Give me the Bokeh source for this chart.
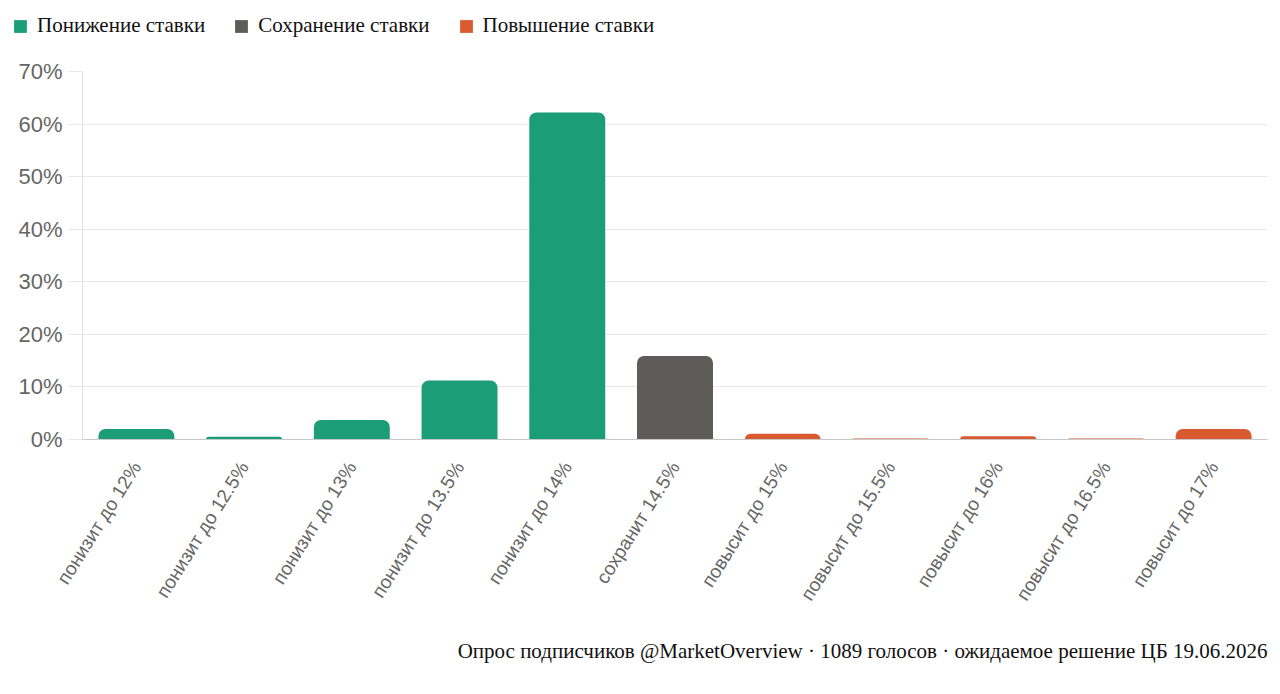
from bokeh.plotting import figure
from bokeh.layouts import column
from bokeh.models import ColumnDataSource, FactorRange, Legend, LegendItem, Title, FixedTicker, CustomJSTickFormatter
from bokeh.embed import file_html
from bokeh.resources import INLINE
from bokeh.transform import factor_cmap

categories = ["понизит до 12%", "понизит до 12.5%", "понизит до 13%", "понизит до 13.5%",
              "понизит до 14%", "сохранит 14.5%", "повысит до 15%", "повысит до 15.5%",
              "повысит до 16%", "повысит до 16.5%", "повысит до 17%"]
shares = [2.0, 0.5, 3.7, 11.2, 62.2, 15.9, 1.1, 0.2, 0.6, 0.2, 2.0]
groups = ["Понижение ставки"] * 5 + ["Сохранение ставки"] + ["Повышение ставки"] * 5
group_names = ["Понижение ставки", "Сохранение ставки", "Повышение ставки"]
group_colors = ["#1b9e77", "#5d5c58", "#d85a2e"]
y_ticks = [0, 10, 20, 30, 40, 50, 60, 70]
footer = "Опрос подписчиков @MarketOverview · 1089 голосов · ожидаемое решение ЦБ 19.06.2026"

src = ColumnDataSource(dict(cat=categories, val=shares, grp=groups))

W = 1275
LH = 48
H = 690 - LH

# ---- legend strip ----
lg = figure(width=W, height=LH, output_backend="svg", toolbar_location=None,
            min_border=0, x_range=(0, 1), y_range=(0, 1))
lg.frame_align = False
lg.outline_line_color = None
lg.axis.visible = False
lg.grid.visible = False
items = []
for g, c in zip(group_names, group_colors):
    rr = lg.vbar(x=[-5], top=[-5], width=0.5, fill_color=c, line_color=None)
    items.append(LegendItem(label=g, renderers=[rr]))
legend = Legend(items=items, orientation="horizontal", location=(12, 10),
                label_text_font="Liberation Serif", label_text_font_size="21px",
                label_text_color="#111111", glyph_width=16, glyph_height=16,
                label_standoff=9, spacing=28, padding=0, margin=0,
                border_line_color=None, background_fill_alpha=0)
lg.add_layout(legend, "center")

# ---- main chart ----
p = figure(width=W, height=H, x_range=FactorRange(*categories, range_padding=0),
           y_range=(0, 70), output_backend="svg", toolbar_location=None,
           min_border_left=82, min_border_right=8, min_border_top=71 - LH, min_border_bottom=251)
p.frame_align = False
p.outline_line_color = None

p.vbar(x="cat", top="val", width=0.705, source=src,
       fill_color=factor_cmap("grp", group_colors, group_names),
       line_color=None, border_radius=(7, 7, 0, 0))

p.yaxis.ticker = FixedTicker(ticks=y_ticks)
p.yaxis.formatter = CustomJSTickFormatter(code="return tick + '%';")
p.yaxis.major_label_text_font = "Liberation Sans"
p.yaxis.major_label_text_font_size = "22px"
p.yaxis.major_label_text_color = "#666666"
p.yaxis.axis_line_color = "#e0e0e0"
p.yaxis.major_tick_line_color = "#e8e8e8"
p.yaxis.major_tick_out = 14
p.yaxis.major_tick_in = 0
p.yaxis.minor_tick_line_color = None
p.yaxis.major_label_standoff = 6

p.xaxis.major_label_orientation = 1.01
p.xaxis.major_label_text_font = "Liberation Sans"
p.xaxis.major_label_text_font_size = "19px"
p.xaxis.major_label_text_color = "#666666"
p.xaxis.axis_line_color = "#c8c8c8"
p.xaxis.major_tick_line_color = None
p.xaxis.major_label_standoff = 18

p.xgrid.grid_line_color = None
p.ygrid.grid_line_color = "#e8e8e8"
p.ygrid.ticker = FixedTicker(ticks=y_ticks)

t = Title(text=footer, align="right", text_font="Liberation Serif",
          text_font_size="21px", text_font_style="normal", text_color="#111111",
          standoff=48)
p.add_layout(t, "below")

layout = column(lg, p)
open("out.html", "w").write(file_html(layout, INLINE))
